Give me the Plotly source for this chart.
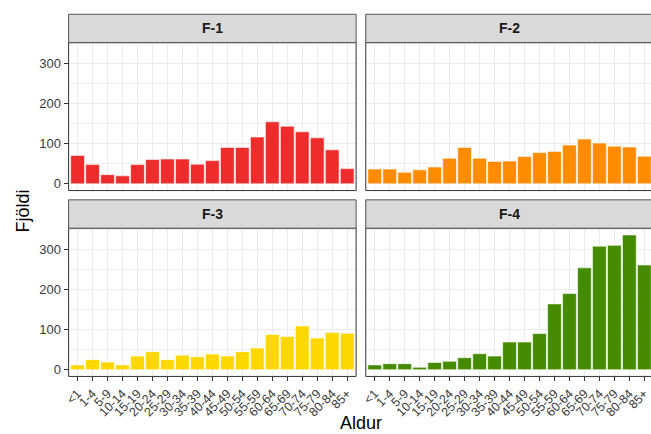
import plotly.graph_objects as go

# Age groups and counts per panel
aldur = ["<1", "1-4", "5-9", "10-14", "15-19", "20-24", "25-29", "30-34", "35-39",
         "40-44", "45-49", "50-54", "55-59", "60-64", "65-69", "70-74", "75-79",
         "80-84", "85+"]
f1 = [71, 48, 23, 20, 48, 61, 62, 62, 49, 58, 91, 91, 117, 155, 144, 130, 115, 85, 38]
f2 = [37, 37, 29, 35, 42, 64, 91, 64, 56, 57, 68, 78, 81, 97, 112, 102, 94, 92, 69]
f3 = [12, 25, 19, 12, 34, 45, 25, 36, 32, 39, 34, 45, 54, 88, 83, 109, 79, 93, 91]
f4 = [12, 15, 15, 6, 18, 21, 30, 40, 34, 69, 69, 90, 164, 190, 254, 308, 310, 336, 261]

panels = ["F-1", "F-2", "F-3", "F-4"]
values = [f1, f2, f3, f4]
colors = ["#EE2C2C", "#FF8C00", "#FFD700", "#458B00"]

W, H = 651, 434
def px(x):
    return x / W
def py(y):
    return 1 - y / H

# panel rectangles in pixels: (left, right, top, bottom)
cols = [(65.0, 354.3), (364.0, 651.0)]
rows = [(42.7, 191.0), (228.7, 377.3)]
strip_h = 28.4
unit = 15.07  # pixels per category
panel_w = 289.3

ymax = 336
yrange = [-0.05 * ymax, ymax * 1.05]

fig = go.Figure()
layout = dict(
    width=W, height=H,
    margin=dict(l=0, r=0, t=0, b=0),
    paper_bgcolor="white", plot_bgcolor="white",
    showlegend=False, bargap=0.08,
    font=dict(family="Liberation Sans, Arial, sans-serif", color="#4D4D4D", size=12),
)
shapes, annotations = [], []

for i, (name, vals, col) in enumerate(zip(panels, values, colors)):
    r, c = divmod(i, 2)
    sfx = "" if i == 0 else str(i + 1)
    xl, xr = cols[c]
    yt, yb = rows[r]
    fig.add_trace(go.Bar(x=aldur, y=vals, marker=dict(color=col, line=dict(color="white", width=0.6)),
                         xaxis="x" + sfx, yaxis="y" + sfx, hoverinfo="x+y"))
    width_units = (xr - xl) / unit
    layout["xaxis" + sfx] = dict(
        domain=[px(xl), px(xr)], anchor="y" + sfx, type="category",
        categoryorder="array", categoryarray=aldur,
        tickmode="array", tickvals=aldur, ticktext=aldur,
        range=[-0.6, -0.6 + width_units],
        showgrid=True, gridcolor="#EBEBEB", gridwidth=1, zeroline=False,
        showline=False,
        showticklabels=(r == 1), ticks="outside" if r == 1 else "",
        ticklen=4, tickcolor="#333333", tickwidth=1, tickangle=-45,
        tickfont=dict(size=12.5, color="#3A3A3A"),
    )
    layout["yaxis" + sfx] = dict(
        domain=[py(yb), py(yt)], anchor="x" + sfx, range=yrange,
        tickvals=[0, 100, 200, 300],
        showgrid=True, gridcolor="#EBEBEB", gridwidth=1, zeroline=False,
        minor=dict(dtick=50, showgrid=True, gridcolor="#F0F0F0", gridwidth=0.7),
        showline=False,
        showticklabels=(c == 0), ticks="outside" if c == 0 else "",
        ticklen=4, tickcolor="#333333", tickwidth=1,
        tickfont=dict(size=13, color="#3A3A3A"),
    )
    # panel border
    shapes.append(dict(type="rect", xref="paper", yref="paper",
                       x0=px(xl), x1=px(xr) + (0.01 if c == 1 else 0), y0=py(yb), y1=py(yt),
                       line=dict(color="#333333", width=1), fillcolor="rgba(0,0,0,0)", layer="above"))
    # strip
    shapes.append(dict(type="rect", xref="paper", yref="paper",
                       x0=px(xl), x1=px(xr) + (0.01 if c == 1 else 0), y0=py(yt), y1=py(yt - strip_h),
                       line=dict(color="#555555", width=1), fillcolor="#D9D9D9", layer="above"))
    annotations.append(dict(text="<b>" + name + "</b>", xref="paper", yref="paper",
                            x=px(xl + panel_w / 2), y=py(yt - strip_h / 2),
                            showarrow=False, font=dict(size=14, color="#1A1A1A"),
                            xanchor="center", yanchor="middle"))

annotations.append(dict(text="Aldur", xref="paper", yref="paper", x=px(359), y=0,
                        showarrow=False, font=dict(size=18, color="#000000"),
                        xanchor="center", yanchor="bottom", yshift=-2))
annotations.append(dict(text="Fjöldi", xref="paper", yref="paper", x=px(19), y=py(211),
                        showarrow=False, font=dict(size=18, color="#000000"), textangle=-90,
                        xanchor="center", yanchor="middle"))

layout["shapes"] = shapes
layout["annotations"] = annotations
fig.update_layout(**layout)
fig.write_html("out.html")
